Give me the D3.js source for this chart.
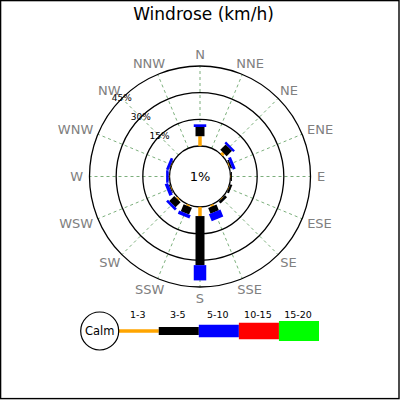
<!DOCTYPE html>
<html><head><meta charset="utf-8">
<script src="https://cdn.jsdelivr.net/npm/d3@7"></script>
<style>body{margin:0;background:#fff}svg{display:block;font-family:"DejaVu Sans",sans-serif}</style>
</head><body>
<svg id="c" width="400" height="400"></svg>
<script>
const directions = ["N","NNE","NE","ENE","E","ESE","SE","SSE","S","SSW","SW","WSW","W","WNW","NW","NNW"];
const speedBands = ["1-3","3-5","5-10","10-15","15-20"];
const bandColors = ["#ffa500","#000000","#0000ff","#ff0000","#00ff00"];
// percent of observations per direction, per speed band
const band1to3   = [5.5, 0, 1.5, 0.5, 0.2, 0.3, 0.3, 1.0, 5.1, 0.8, 0.8, 0.4, 0.2, 0.2, 0, 0];
const band3to5   = [5.2, 0, 4.3, 0.9, 0.6, 1.2, 1.5, 3.4, 27.6, 4.2, 4.0, 0.5, 0.3, 0.4, 0, 0];
const band5to10  = [1.5, 0, 1.3, 1.7, 0, 0, 0, 4.2, 8.6, 2.0, 1.5, 2.0, 1.4, 1.5, 0, 0];
const band10to15 = [0, 0, 0, 0, 0, 0, 0, 0, 0, 0, 0, 0, 0, 0, 0, 0];
const band15to20 = [0, 0, 0, 0, 0, 0, 0, 0, 0, 0, 0, 0, 0, 0, 0, 0];
const ringTicks = [15, 30, 45];
const ringLabels = ["15%","30%","45%"];
const calmLabel = "1%";
const title = "Windrose (km/h)";

const bands = [band1to3, band3to5, band5to10, band10to15, band15to20];
const bandWidths = [3.5, 9, 12.5, 16.5, 20];

const svg = d3.select("#c");
svg.append("rect").attr("x",0.6).attr("y",0.6).attr("width",398.4).attr("height",398).attr("fill","none").attr("stroke","#000").attr("stroke-width",1.4);

const cx = 200, cy = 176.5;
const r = d3.scaleLinear().domain([0, 45]).range([30.5, 110.5]);
const ang = d3.scalePoint().domain(directions).range([0, 360 - 22.5]);
const rad = d => ang(d) * Math.PI / 180;
const pt = (d, v) => [cx + Math.sin(rad(d)) * r(v), cy - Math.cos(rad(d)) * r(v)];

svg.append("text").attr("x",203.5).attr("y",19.5).attr("text-anchor","middle")
  .attr("font-size",17).attr("fill","#000").text(title);

const g = svg.append("g");
// radial dashed lines
g.selectAll("line.spoke").data(directions).join("line").attr("class","spoke")
  .attr("x1", d => pt(d,0)[0]).attr("y1", d => pt(d,0)[1])
  .attr("x2", d => pt(d,45)[0]).attr("y2", d => pt(d,45)[1])
  .attr("stroke","#5a9a5a").attr("stroke-width",0.8).attr("stroke-dasharray","3,3");
// rings
g.selectAll("circle.ring").data([0].concat(ringTicks)).join("circle").attr("class","ring")
  .attr("cx",cx).attr("cy",cy).attr("r", d => r(d))
  .attr("fill","none").attr("stroke","#000").attr("stroke-width",1.3);

// bars
directions.forEach((d, i) => {
  let acc = 0;
  bands.forEach((b, j) => {
    const v = b[i];
    if (v > 0) {
      const a = pt(d, acc), e = pt(d, acc + v);
      g.append("line").attr("x1",a[0]).attr("y1",a[1]).attr("x2",e[0]).attr("y2",e[1])
        .attr("stroke", bandColors[j]).attr("stroke-width", bandWidths[j]).attr("stroke-linecap","butt");
    }
    acc += v;
  });
});

// ring labels along NW
ringTicks.forEach((t, i) => {
  const p = pt("NW", t);
  g.append("text").attr("x",p[0]).attr("y",p[1]).attr("text-anchor","middle")
    .attr("dominant-baseline","central").attr("font-size",9).attr("fill","#000").text(ringLabels[i]);
});

g.append("text").attr("x",cx).attr("y",cy).attr("text-anchor","middle").attr("dominant-baseline","central")
  .attr("font-size",13).attr("fill","#000").text(calmLabel);

// direction labels
directions.forEach(d => {
  const t = g.append("text").attr("text-anchor","middle").attr("dominant-baseline","central")
    .attr("font-size",13).attr("fill","#808080").text(d);
  const w = t.node().getComputedTextLength();
  const a = rad(d);
  t.attr("x", cx + Math.sin(a) * (117 + w / 2)).attr("y", cy - Math.cos(a) * 122);
});

// legend
const lx = d3.scaleBand().domain(speedBands).range([118.7, 319]);
const ly = 331;
const leg = svg.append("g");
leg.selectAll("line").data(speedBands).join("line")
  .attr("x1", d => lx(d)).attr("x2", d => lx(d) + lx.bandwidth())
  .attr("y1", ly).attr("y2", ly)
  .attr("stroke", (d,i) => bandColors[i]).attr("stroke-width", (d,i) => bandWidths[i] === 9 ? 8 : bandWidths[i]);
leg.selectAll("text").data(speedBands).join("text")
  .attr("x", d => lx(d) + lx.bandwidth()/2 - 1).attr("y", 314.5)
  .attr("text-anchor","middle").attr("dominant-baseline","central")
  .attr("font-size",9.5).attr("fill","#000").text(d => d);
leg.append("circle").attr("cx",99.7).attr("cy",ly).attr("r",19).attr("fill","#fff").attr("stroke","#000").attr("stroke-width",1.2);
leg.append("text").attr("x",99.7).attr("y",ly).attr("text-anchor","middle").attr("dominant-baseline","central")
  .attr("font-size",11.5).attr("fill","#000").text("Calm");
</script>
</body></html>
